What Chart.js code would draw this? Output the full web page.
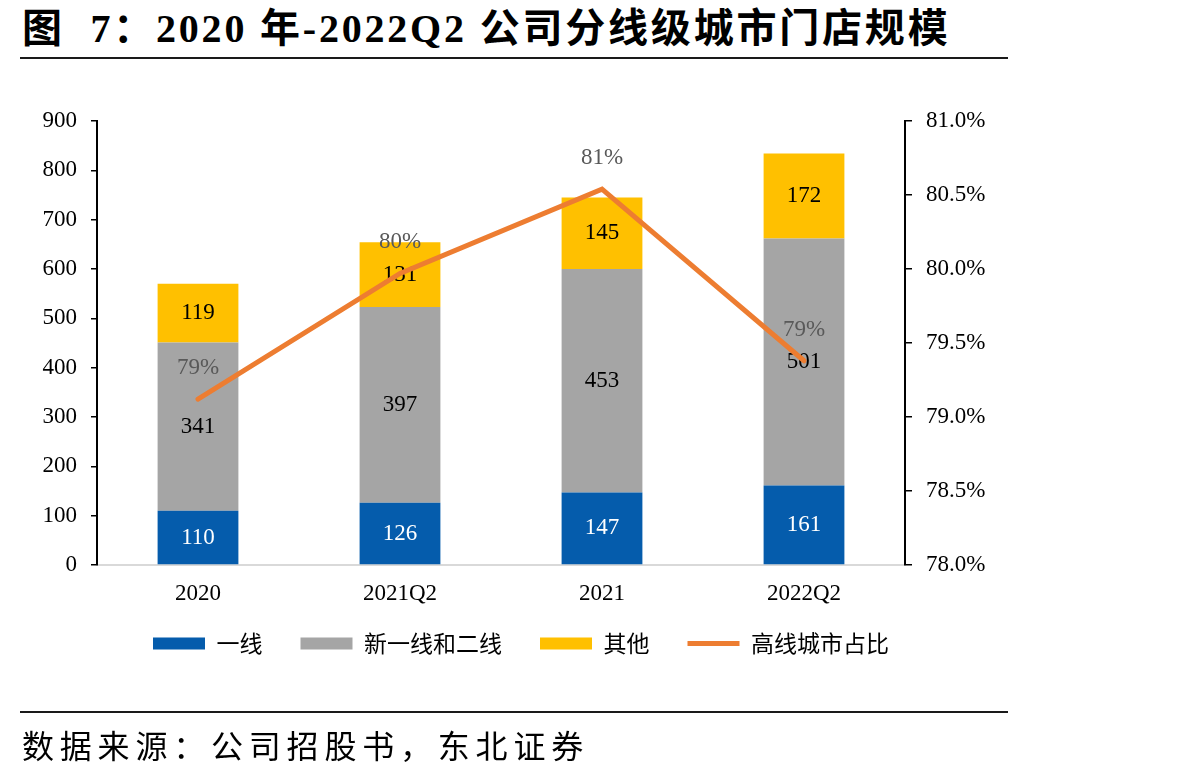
<!DOCTYPE html>
<html>
<head>
<meta charset="utf-8">
<script src="https://cdn.jsdelivr.net/npm/chart.js@4/dist/chart.umd.min.js"></script>
<style>
  body { margin: 0; background: #fff; width: 1198px; height: 779px; overflow: hidden; position: relative; }
  #chart { position: absolute; left: 0; top: 0; }
  .title {
    position: absolute; left: 22px; top: -4px; white-space: nowrap; letter-spacing: 2.8px;
    font-family: "Liberation Serif", "Noto Sans CJK SC", serif; font-weight: bold; font-size: 40px; color: #000;
  }
  .rule { position: absolute; left: 20px; width: 988px; height: 2px; background: #1a1a1a; }
  .source {
    position: absolute; left: 22px; top: 721px; white-space: nowrap;
    font-family: "Noto Sans CJK SC", sans-serif; font-size: 32px; letter-spacing: 5.8px; color: #000;
  }
</style>
</head>
<body>
<div class="title">图&nbsp; 7：2020 年-2022Q2 公司分线级城市门店规模</div>
<div class="rule" style="top:57px"></div>
<canvas id="chart" width="1198" height="779"></canvas>
<div class="rule" style="top:711px"></div>
<div class="source">数据来源：公司招股书，东北证券</div>
<script>
const periods = ["2020", "2021Q2", "2021", "2022Q2"];
const tier1 = [110, 126, 147, 161];
const newTier1Tier2 = [341, 397, 453, 501];
const others = [119, 131, 145, 172];
const highTierShare = [79.12, 79.97, 80.54, 79.38];

const serif = "'Liberation Serif', 'Times New Roman', serif";
const cjk = "'Noto Sans CJK SC', sans-serif";

// draws segment values inside bars and percentages above the line
const valueLabels = {
  id: "valueLabels",
  afterDatasetDraw(chart, args) {
    const ctx = chart.ctx;
    const meta = args.meta;
    ctx.save();
    ctx.font = "23px " + serif;
    ctx.textAlign = "center";
    ctx.textBaseline = "middle";
    if (meta.type === "bar") {
      ctx.fillStyle = args.index === 0 ? "#ffffff" : "#000000";
      meta.data.forEach((bar, i) => {
        const v = chart.data.datasets[args.index].data[i];
        ctx.fillText(String(v), bar.x, (bar.y + bar.base) / 2);
      });
    } else {
      ctx.fillStyle = "#595959";
      meta.data.forEach((pt, i) => {
        const v = chart.data.datasets[args.index].data[i];
        ctx.fillText(Math.round(v) + "%", pt.x, pt.y - 31);
      });
    }
    ctx.restore();
  },
};

// nudge the legend up a little closer to the axis labels
const legendNudge = {
  id: "legendNudge",
  afterLayout(chart) {
    const lg = chart.legend;
    if (lg) { lg.top -= 16; lg.bottom -= 16; }
  },
};

new Chart(document.getElementById("chart"), {
  type: "bar",
  data: {
    labels: periods,
    datasets: [
      { label: "一线", data: tier1, backgroundColor: "#055CAC", order: 1 },
      { label: "新一线和二线", data: newTier1Tier2, backgroundColor: "#A5A5A5", order: 1 },
      { label: "其他", data: others, backgroundColor: "#FFC000", order: 1 },
      {
        label: "高线城市占比",
        type: "line",
        data: highTierShare,
        yAxisID: "y1",
        borderColor: "#ED7D31",
        backgroundColor: "#ED7D31",
        borderWidth: 5,
        borderCapStyle: "round",
        pointRadius: 0,
        tension: 0,
        order: 0,
      },
    ],
  },
  options: {
    responsive: false,
    animation: false,
    categoryPercentage: 1,
    barPercentage: 0.4,
    layout: { padding: { top: 121, right: 156, left: 0, bottom: 98 } },
    scales: {
      x: {
        stacked: true,
        grid: { display: false, drawTicks: false },
        border: { display: true, color: "#D9D9D9", width: 2 },
        ticks: { color: "#000", font: { family: serif, size: 23 }, padding: 15 },
        afterFit: (s) => { s.height = 45; },
      },
      y: {
        stacked: true,
        min: 0,
        max: 900,
        ticks: { stepSize: 100, color: "#000", font: { family: serif, size: 23 }, padding: 14 },
        grid: { drawOnChartArea: false, tickLength: 6, color: "#000", lineWidth: 1.5 },
        border: { display: true, color: "#000", width: 2 },
        afterFit: (s) => { s.width = 97; },
      },
      y1: {
        position: "right",
        min: 78,
        max: 81,
        ticks: {
          stepSize: 0.5,
          color: "#000",
          font: { family: serif, size: 23 },
          padding: 14,
          callback: (v) => v.toFixed(1) + "%",
        },
        grid: { drawOnChartArea: false, tickLength: 7, color: "#000", lineWidth: 1.5 },
        border: { display: true, color: "#000", width: 2 },
        afterFit: (s) => { s.width = 137; },
      },
    },
    plugins: {
      legend: {
        position: "bottom",
        labels: {
          usePointStyle: true,
          pointStyleWidth: 52,
          boxHeight: 12,
          padding: 38,
          color: "#000",
          font: { family: cjk, size: 23 },
          generateLabels: (chart) =>
            chart.data.datasets.map((ds, i) => ({
              text: ds.label,
              datasetIndex: i,
              fillStyle: ds.backgroundColor,
              strokeStyle: ds.type === "line" ? ds.borderColor : ds.backgroundColor,
              lineWidth: ds.type === "line" ? 5 : 0,
              pointStyle: ds.type === "line" ? "line" : "rect",
              fontColor: "#000",
            })),
        },
      },
      tooltip: { enabled: false },
    },
  },
  plugins: [valueLabels, legendNudge],
});
</script>
</body>
</html>
